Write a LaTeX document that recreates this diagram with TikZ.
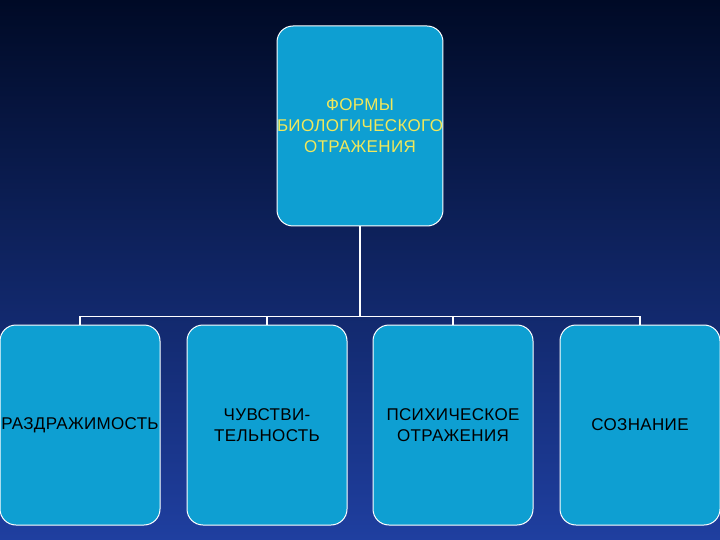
\documentclass[tikz,border=0pt]{standalone}
\usepackage{fontspec}
\setmainfont{Liberation Sans}[LetterSpace=2]
\begin{document}
\begin{tikzpicture}[x=1pt,y=-1pt,
  box/.style={draw=white,line width=1pt,fill=boxc,rounded corners=16pt,minimum width=160pt,minimum height=200pt,align=center,font=\fontsize{17}{21}\selectfont,inner sep=0pt},
  conn/.style={draw=white,line width=1.2pt}]
\definecolor{boxc}{HTML}{0E9FD2}
\definecolor{topc}{HTML}{000A26}
\definecolor{botc}{HTML}{1F3FA0}
\definecolor{ylw}{HTML}{F2E85A}
\shade[top color=topc,bottom color=botc] (0,0) rectangle (720,540);
\useasboundingbox (0,0) rectangle (720,540);
\node[box,text=ylw] (top) at (360,126) {ФОРМЫ\\БИОЛОГИЧЕСКОГО\\ОТРАЖЕНИЯ};
\node[box] (b1) at (80,425) {РАЗДРАЖИМОСТЬ};
\node[box] (b2) at (267,425) {ЧУВСТВИ-\\ТЕЛЬНОСТЬ};
\node[box] (b3) at (453,425) {ПСИХИЧЕСКОЕ\\ОТРАЖЕНИЯ};
\node[box] (b4) at (640,425) {СОЗНАНИЕ};
\coordinate (h) at (360,317);
\draw[conn] (top.south) -- (h);
\draw[conn] (b1.north) -- ++(0,-8) -| (b4.north);
\draw[conn] (b2.north) -- ++(0,-8);
\draw[conn] (b3.north) -- ++(0,-8);
\end{tikzpicture}
\end{document}
